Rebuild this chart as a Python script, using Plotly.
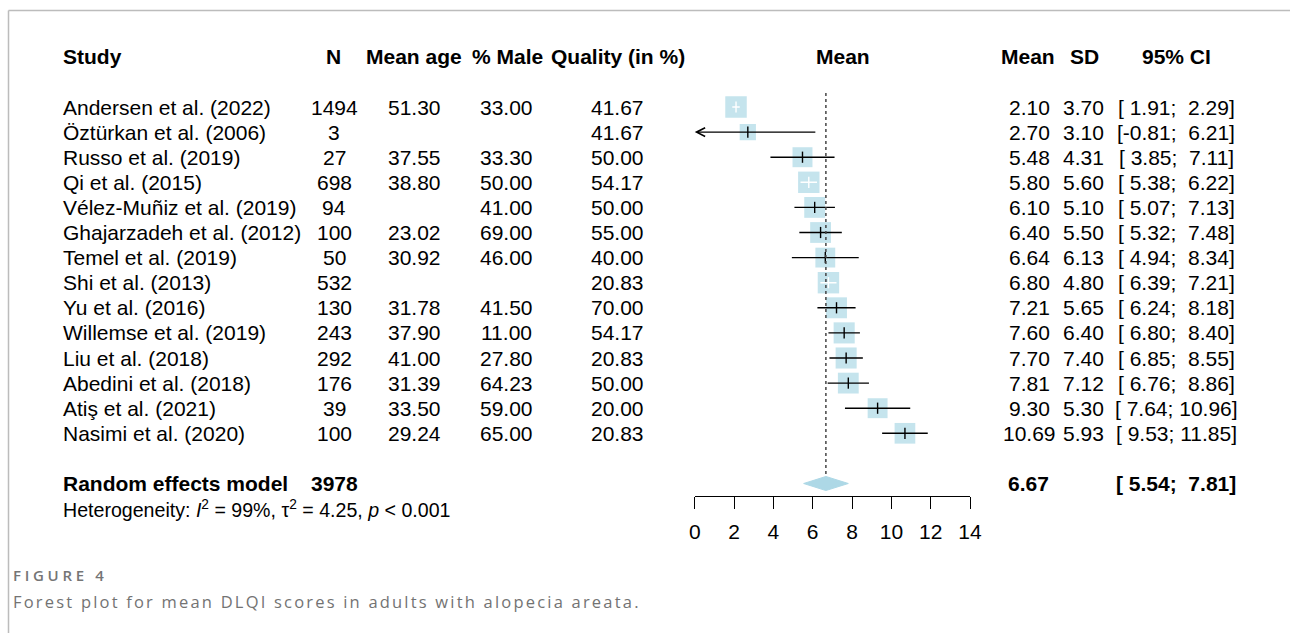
import math
import plotly.graph_objects as go

# ---------------- data ----------------
studies = ["Andersen et al. (2022)", "Öztürkan et al. (2006)", "Russo et al. (2019)",
           "Qi et al. (2015)", "Vélez-Muñiz et al. (2019)", "Ghajarzadeh et al. (2012)",
           "Temel et al. (2019)", "Shi et al. (2013)", "Yu et al. (2016)",
           "Willemse et al. (2019)", "Liu et al. (2018)", "Abedini et al. (2018)",
           "Atiş et al. (2021)", "Nasimi et al. (2020)"]
n_vals = [1494, 3, 27, 698, 94, 100, 50, 532, 130, 243, 292, 176, 39, 100]
mean_age = [51.30, None, 37.55, 38.80, None, 23.02, 30.92, None, 31.78, 37.90, 41.00, 31.39, 33.50, 29.24]
pct_male = [33.00, None, 33.30, 50.00, 41.00, 69.00, 46.00, None, 41.50, 11.00, 27.80, 64.23, 59.00, 65.00]
quality = [41.67, 41.67, 50.00, 54.17, 50.00, 55.00, 40.00, 20.83, 70.00, 54.17, 20.83, 50.00, 20.00, 20.83]
means = [2.10, 2.70, 5.48, 5.80, 6.10, 6.40, 6.64, 6.80, 7.21, 7.60, 7.70, 7.81, 9.30, 10.69]
sds = [3.70, 3.10, 4.31, 5.60, 5.10, 5.50, 6.13, 4.80, 5.65, 6.40, 7.40, 7.12, 5.30, 5.93]
ci_low = [1.91, -0.81, 3.85, 5.38, 5.07, 5.32, 4.94, 6.39, 6.24, 6.80, 6.85, 6.76, 7.64, 9.53]
ci_high = [2.29, 6.21, 7.11, 6.22, 7.13, 7.48, 8.34, 7.21, 8.18, 8.40, 8.55, 8.86, 10.96, 11.85]

total_n = 3978
pooled_mean = 6.67
pooled_low = 5.54
pooled_high = 7.81
tau2 = 4.25
i2_text = "99%"
p_text = "0.001"

x_ticks = [0, 2, 4, 6, 8, 10, 12, 14]

# ---------------- layout helpers ----------------
W, H = 1290, 633
ROW0, ROWH = 107, 25.1          # pixel centre of first study row, row height
XMIN, XMAX = 0, 14
FONT = "Liberation Sans, Arial, Helvetica, sans-serif"
CAPFONT = "Open Sans, Noto Sans, sans-serif"
FS = 21
NB = "\u00a0"

# horizontal correction for the capture (observed: shown = 0.985 * page + 7)
HS, HO = 0.985, 7.0

def X(x):
    return (x - HO) / HS

def px(x):
    return X(x) / W

def py(y):
    return 1 - y / H

FX0, FX1 = X(695), X(970)       # forest axis extent (page px)
ppu = (970 - 695) / (XMAX - XMIN)

# random-effects weights -> square size
weights = [1.0 / ((s / math.sqrt(n)) ** 2 + tau2) for s, n in zip(sds, n_vals)]
wmax = max(weights)
sizes = [21.5 * math.sqrt(w / wmax) for w in weights]

rows = list(range(len(studies)))
re_row = len(studies) + 1
het_row = re_row + 1

fig = go.Figure()

# squares
fig.add_trace(go.Scatter(
    x=means, y=rows, mode="markers",
    marker=dict(symbol="square", size=sizes, color="#add8e6", line=dict(width=0)),
    hoverinfo="skip", cliponaxis=False, showlegend=False))

# CI lines (black when extending beyond the box, white when inside)
bx, by, wx, wy = [], [], [], []
bmx, bmy, wmx, wmy = [], [], [], []
for i, (m, lo, hi, s) in enumerate(zip(means, ci_low, ci_high, sizes)):
    half = s / 2 / ppu
    inside = lo >= m - half and hi <= m + half
    if lo < XMIN:
        bmx.append(m); bmy.append(i)
        continue
    if inside:
        wx += [lo, hi, None]; wy += [i, i, None]
        wmx.append(m); wmy.append(i)
    else:
        bx += [lo, hi, None]; by += [i, i, None]
        bmx.append(m); bmy.append(i)

fig.add_trace(go.Scatter(x=bx, y=by, mode="lines", line=dict(color="black", width=1.4),
                         hoverinfo="skip", showlegend=False, cliponaxis=False))
fig.add_trace(go.Scatter(x=wx, y=wy, mode="lines", line=dict(color="white", width=1.4),
                         hoverinfo="skip", showlegend=False, cliponaxis=False))
fig.add_trace(go.Scatter(x=bmx, y=bmy, mode="markers",
                         marker=dict(symbol="line-ns", size=8, line=dict(color="black", width=1.4)),
                         hoverinfo="skip", showlegend=False, cliponaxis=False))
fig.add_trace(go.Scatter(x=wmx, y=wmy, mode="markers",
                         marker=dict(symbol="line-ns", size=8, line=dict(color="white", width=1.4)),
                         hoverinfo="skip", showlegend=False, cliponaxis=False))

# arrows for CIs truncated at the axis minimum
for i, (lo, hi) in enumerate(zip(ci_low, ci_high)):
    if lo < XMIN:
        fig.add_annotation(x=XMIN, y=i, ax=hi, ay=i, xref="x", yref="y", axref="x", ayref="y",
                           text="", showarrow=True, arrowhead=5, arrowsize=1.2,
                           arrowwidth=1.4, arrowcolor="black", standoff=0)

# pooled diamond
dh = 0.28
fig.add_trace(go.Scatter(
    x=[pooled_low, pooled_mean, pooled_high, pooled_mean, pooled_low],
    y=[re_row, re_row - dh, re_row, re_row + dh, re_row],
    mode="lines", fill="toself", fillcolor="#add8e6", line=dict(color="#add8e6", width=1),
    hoverinfo="skip", showlegend=False, cliponaxis=False))

# dotted pooled line
fig.add_shape(type="line", xref="x", yref="y", x0=pooled_mean, x1=pooled_mean,
              y0=-0.56, y1=re_row - 0.3,
              line=dict(color="#444444", width=1.5, dash="dot"))

# ---------------- text ----------------
def txt(xp, row, s, anchor="center", bold=False, size=FS, color="black"):
    if bold:
        s = "<b>" + s + "</b>"
    fig.add_annotation(x=px(xp), y=row, xref="paper", yref="y", text=s, showarrow=False,
                       xanchor=anchor, yanchor="middle",
                       font=dict(family=FONT, size=size, color=color))

hdr = -2
txt(62, hdr, "Study", "left", True)
txt(334, hdr, "N", bold=True)
txt(415, hdr, "Mean age", bold=True)
txt(508, hdr, "% Male", bold=True)
txt(618, hdr, "Quality (in %)", bold=True)
txt(843, hdr, "Mean", bold=True)
txt(1028, hdr, "Mean", bold=True)
txt(1084, hdr, "SD", bold=True)
txt(1176, hdr, "95% CI", bold=True)

def f2(v):
    return "" if v is None else f"{v:.2f}"

def ci_str(lo, hi):
    return f"[{lo:5.2f}; {hi:5.2f}]".replace(" ", NB)

for i in rows:
    txt(62, i, studies[i], "left")
    txt(335, i, str(n_vals[i]))
    if mean_age[i] is not None:
        txt(415, i, f2(mean_age[i]))
    if pct_male[i] is not None:
        txt(507, i, f2(pct_male[i]))
    txt(618, i, f2(quality[i]))
    txt(1029, i, f2(means[i]))
    txt(1083, i, f2(sds[i]))
    txt(1176, i, ci_str(ci_low[i], ci_high[i]))

txt(62, re_row, "Random effects model", "left", True)
txt(335, re_row, str(total_n), bold=True)
txt(1028, re_row, f2(pooled_mean), bold=True)
txt(1176, re_row, ci_str(pooled_low, pooled_high), bold=True)
txt(62, het_row, f"Heterogeneity: <i>I</i><sup>2</sup> = {i2_text}, τ<sup>2</sup> = {tau2:.2f}, "
                 f"<i>p</i> &lt; {p_text}", "left", size=19.6)

# caption
fig.add_annotation(x=px(12), y=py(575), xref="paper", yref="paper",
                   text='<span style="letter-spacing:3.7px">FIGURE 4</span>',
                   showarrow=False, xanchor="left", yanchor="middle",
                   font=dict(family=CAPFONT, size=15, color="#757575", weight=600))
fig.add_annotation(x=px(12), y=py(601), xref="paper", yref="paper",
                   text='<span style="letter-spacing:2.2px">'
                        'Forest plot for mean DLQI scores in adults with alopecia areata.</span>',
                   showarrow=False, xanchor="left", yanchor="middle",
                   font=dict(family=CAPFONT, size=16.5, color="#737373"))

# frame
fig.add_shape(type="line", xref="paper", yref="paper", x0=px(9.5), x1=px(1292), y0=py(10.5), y1=py(10.5),
              line=dict(color="#bcbcbc", width=1.3))
fig.add_shape(type="line", xref="paper", yref="paper", x0=px(9.5), x1=px(9.5), y0=0, y1=py(10.5),
              line=dict(color="#bcbcbc", width=1.5))

fig.update_layout(
    width=W, height=H, margin=dict(l=0, r=0, t=0, b=0),
    paper_bgcolor="white", plot_bgcolor="rgba(0,0,0,0)",
    showlegend=False,
    xaxis=dict(domain=[FX0 / W, FX1 / W], range=[XMIN, XMAX], anchor="free",
               position=py(496), showgrid=False, zeroline=False,
               showline=True, linecolor="black", linewidth=1.4,
               ticks="outside", ticklen=12, tickwidth=1.4, tickcolor="black",
               tickvals=x_ticks, ticktext=[str(t) for t in x_ticks],
               tickfont=dict(family=FONT, size=FS, color="black"),
               ticklabelstandoff=5, fixedrange=True),
    yaxis=dict(domain=[0, 1], range=[(H - ROW0) / ROWH, -ROW0 / ROWH],
               visible=False, showgrid=False, zeroline=False, fixedrange=True),
)

fig.write_html("out.html", config={"displayModeBar": False},
               post_script="document.body.style.margin='0';document.body.style.overflow='hidden';")
